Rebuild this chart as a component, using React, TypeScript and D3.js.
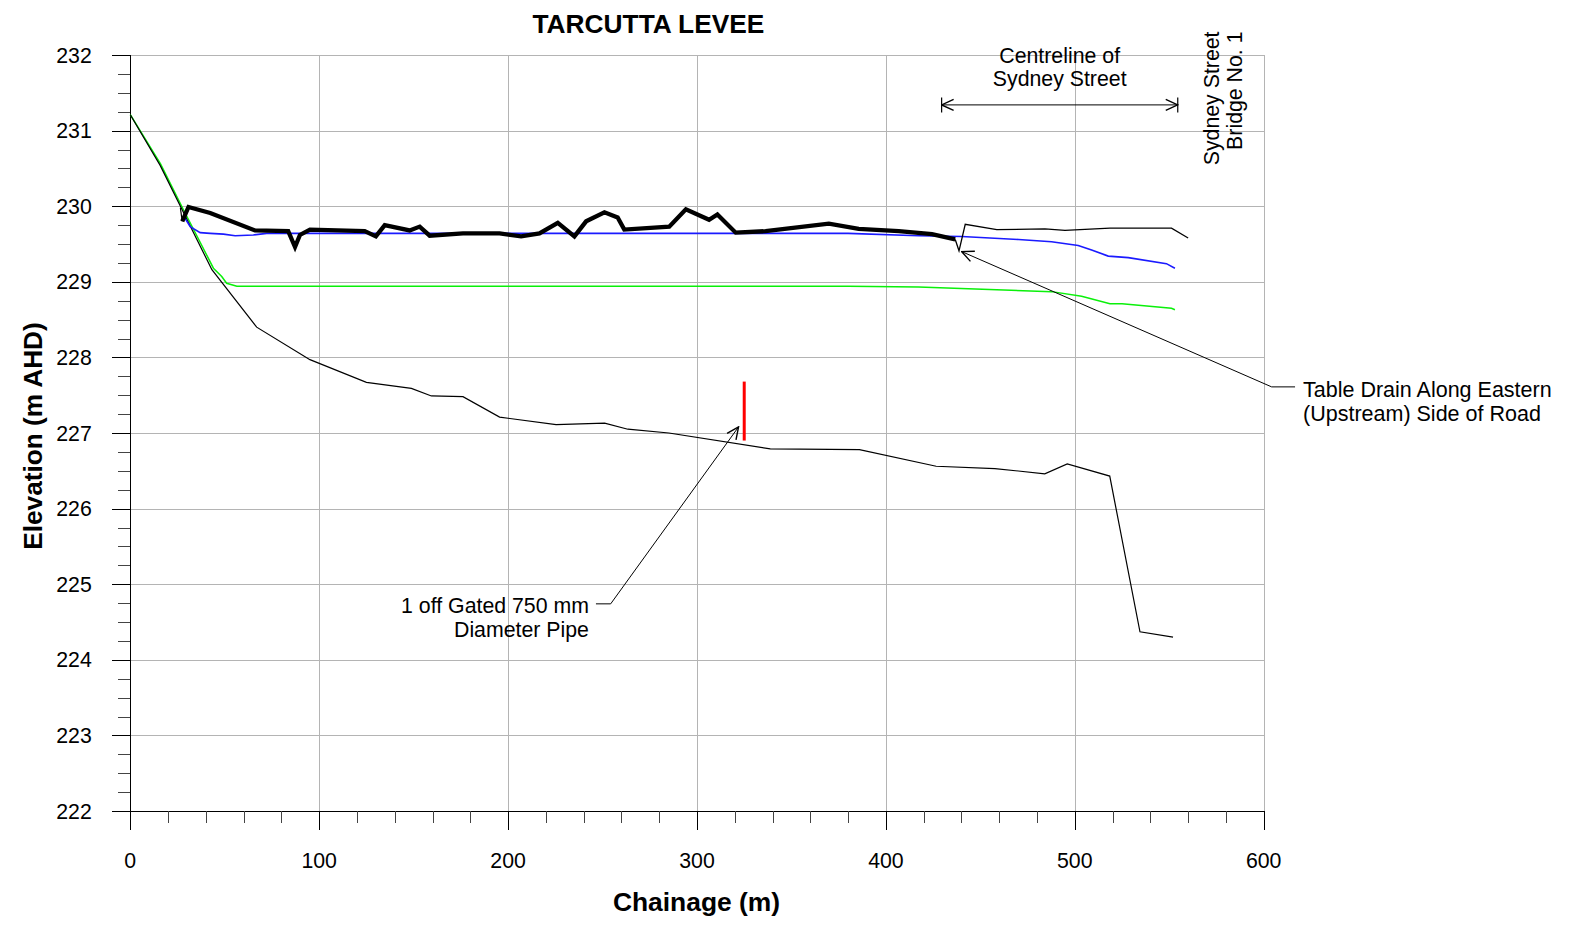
import React from "react";
import * as d3 from "d3";

// Long-section of the Tarcutta levee: chainage (m) vs elevation (m AHD)

// Natural surface / ground profile
const groundChainage = [0, 15.8, 43.2, 66.9, 95.1, 125, 148.8, 159.4, 176.1, 195.5, 225.4, 251.1, 263.4, 285.1, 338.8, 386.0, 426.6, 457.7, 484.1, 496.0, 518.5, 534.5, 552];
const groundLevel = [231.21, 230.54, 229.16, 228.4, 227.97, 227.67, 227.59, 227.49, 227.48, 227.21, 227.11, 227.13, 227.05, 227.0, 226.79, 226.78, 226.56, 226.53, 226.46, 226.59, 226.43, 224.37, 224.3];

// Levee crest (heavy line)
const crestChainage = [27.5, 30.8, 42.3, 66, 83.6, 87.2, 89.8, 95.1, 124.1, 130, 134.7, 147.9, 153.2, 158.5, 176.1, 195.5, 206.9, 216.6, 226.3, 235.1, 241.3, 251, 258, 261.5, 285.3, 294.1, 306.4, 310.8, 320.5, 336.3, 369.8, 385.6, 406.8, 424.4, 436.7];
const crestLevel = [229.8, 229.99, 229.91, 229.68, 229.67, 229.46, 229.62, 229.69, 229.67, 229.6, 229.75, 229.68, 229.73, 229.61, 229.64, 229.64, 229.6, 229.64, 229.78, 229.6, 229.8, 229.92, 229.85, 229.69, 229.73, 229.96, 229.82, 229.89, 229.65, 229.67, 229.77, 229.7, 229.67, 229.63, 229.56];

// Road surface through Sydney Street (thin line)
const roadChainage = [26.5, 27.5, 436.7, 438.7, 442, 458.7, 484.2, 494.8, 518.6, 551.2, 560];
const roadLevel = [229.98, 229.8, 229.56, 229.41, 229.76, 229.69, 229.7, 229.68, 229.71, 229.71, 229.58];

// Flood level (blue)
const blueChainage = [28.5, 31.7, 37, 42.3, 49.3, 55.5, 65.1, 72.2, 200, 380, 417.3, 440.2, 470.2, 487.7, 501.8, 508.9, 517.7, 528.3, 548.5, 553];
const blueLevel = [229.86, 229.73, 229.65, 229.64, 229.63, 229.61, 229.62, 229.64, 229.64, 229.64, 229.61, 229.6, 229.56, 229.53, 229.48, 229.42, 229.34, 229.32, 229.24, 229.18];

// Flood level (green)
const greenChainage = [0, 16, 28, 44, 48.4, 51, 56.4, 200, 380, 417.3, 487.7, 503.6, 518.6, 525, 551.2, 553];
const greenLevel = [231.21, 230.56, 229.96, 229.18, 229.07, 228.98, 228.94, 228.94, 228.94, 228.93, 228.87, 228.81, 228.71, 228.71, 228.65, 228.63];

// Gated pipe through the levee
const pipeChainage = 325;
const pipeInvert = 226.9;
const pipeObvert = 227.68;

// Extent of Sydney Street centreline
const sydneyStreetExtent = [429.5, 554.5];

// Axis ticks
const xTicks = [0, 100, 200, 300, 400, 500, 600];
const yTicks = [222, 223, 224, 225, 226, 227, 228, 229, 230, 231, 232];

const FONT = "'Liberation Sans', Arial, Helvetica, sans-serif";

const zip = (xs: number[], ys: number[]) => xs.map((x, i) => [x, ys[i]] as [number, number]);

export default function App() {
  const W = 1579;
  const H = 926;
  const x = d3.scaleLinear().domain([0, 600]).range([130.3, 1263.7]);
  const y = d3.scaleLinear().domain([222, 232]).range([811, 55]);
  const line = d3.line<[number, number]>().x((d) => x(d[0])).y((d) => y(d[1]));
  const px = (v: number) => Math.round(v) + 0.5;

  const xMinor = d3.range(0, 601, 20).filter((v) => v % 100 !== 0);
  const yMinor = d3.range(222, 232.001, 0.25).filter((v) => Math.abs(v - Math.round(v)) > 1e-6);

  const gridColor = "#b4b4b4";

  // pipe annotation geometry
  const pipeTip: [number, number] = [322.0, 227.08];
  const pipeElbow: [number, number] = [254.3, 224.74];
  const pipeLeaderStart = 246.5;

  // table drain annotation geometry
  const drainTip: [number, number] = [440.1, 229.4];
  const drainElbow: [number, number] = [604.2, 227.61];
  const drainLeaderEnd = 616.6;

  const dimY = y(231.34);
  const dimL = x(sydneyStreetExtent[0]);
  const dimR = x(sydneyStreetExtent[1]);
  const dimMid = (dimL + dimR) / 2;

  return (
    <svg
      width={W}
      height={H}
      style={{ position: "absolute", left: 0, top: 0, background: "#fff" }}
      fontFamily={FONT}
    >
      <defs>
        <marker id="openArrow" viewBox="0 0 14 14" refX="13" refY="7" markerWidth="14" markerHeight="14" markerUnits="userSpaceOnUse" orient="auto-start-reverse">
          <path d="M1,1.5 L13,7 L1,12.5" fill="none" stroke="#000" strokeWidth="1.4" />
        </marker>
      </defs>
      <rect x={0} y={0} width={W} height={H} fill="#fff" />

      {/* grid */}
      <g stroke={gridColor} strokeWidth={1} shapeRendering="crispEdges">
        {xTicks.filter((v) => v > 0).map((v) => (
          <line key={"gx" + v} x1={px(x(v))} x2={px(x(v))} y1={y(232)} y2={y(222)} />
        ))}
        {yTicks.filter((v) => v > 222).map((v) => (
          <line key={"gy" + v} x1={x(0)} x2={x(600)} y1={px(y(v))} y2={px(y(v))} />
        ))}
      </g>

      {/* axes and ticks */}
      <g stroke="#000" strokeWidth={1} shapeRendering="crispEdges">
        <line x1={px(x(0))} x2={px(x(0))} y1={y(232)} y2={y(222) + 19} />
        <line x1={x(0) - 18} x2={x(600)} y1={px(y(222))} y2={px(y(222))} />
        {yTicks.map((v) => (
          <line key={"yt" + v} x1={x(0) - 18} x2={x(0)} y1={px(y(v))} y2={px(y(v))} />
        ))}
        {xTicks.map((v) => (
          <line key={"xt" + v} x1={px(x(v))} x2={px(x(v))} y1={y(222)} y2={y(222) + 19} />
        ))}
      </g>
      <g stroke="#444" strokeWidth={1} shapeRendering="crispEdges">
        {yMinor.map((v) => (
          <line key={"ym" + v} x1={x(0) - 12} x2={x(0)} y1={px(y(v))} y2={px(y(v))} />
        ))}
        {xMinor.map((v) => (
          <line key={"xm" + v} x1={px(x(v))} x2={px(x(v))} y1={y(222)} y2={y(222) + 12} />
        ))}
      </g>

      {/* tick labels */}
      <g fontSize={21.3} fill="#000">
        {yTicks.map((v) => (
          <text key={"yl" + v} x={x(0) - 38.5} y={y(v) + 7.6} textAnchor="end">{v}</text>
        ))}
        {xTicks.map((v) => (
          <text key={"xl" + v} x={x(v)} y={868} textAnchor="middle">{v}</text>
        ))}
      </g>

      {/* profiles */}
      <path d={line(zip(greenChainage, greenLevel)) ?? ""} fill="none" stroke="#0af00a" strokeWidth={1.5} />
      <path d={line(zip(groundChainage, groundLevel)) ?? ""} fill="none" stroke="#000" strokeWidth={1.2} />
      <path d={line(zip(blueChainage, blueLevel)) ?? ""} fill="none" stroke="#1a1aff" strokeWidth={1.6} />
      <path d={line(zip(roadChainage.slice(2), roadLevel.slice(2))) ?? ""} fill="none" stroke="#000" strokeWidth={1.3} />
      <path d={line(zip(roadChainage.slice(0, 2), roadLevel.slice(0, 2))) ?? ""} fill="none" stroke="#000" strokeWidth={1.2} />
      <path d={line(zip(crestChainage, crestLevel)) ?? ""} fill="none" stroke="#000" strokeWidth={4.3} strokeLinejoin="miter" />

      {/* pipe */}
      <line x1={x(pipeChainage)} x2={x(pipeChainage)} y1={y(pipeInvert)} y2={y(pipeObvert)} stroke="#ff0000" strokeWidth={3} />

      {/* pipe annotation */}
      <path
        d={`M${x(pipeLeaderStart)},${y(pipeElbow[1])} L${x(pipeElbow[0])},${y(pipeElbow[1])} L${x(pipeTip[0])},${y(pipeTip[1])}`}
        fill="none" stroke="#000" strokeWidth={1} markerEnd="url(#openArrow)"
      />
      <g fontSize={21.3} textAnchor="end">
        <text x={x(pipeLeaderStart) - 7} y={y(pipeElbow[1]) + 9}>1 off Gated 750 mm</text>
        <text x={x(pipeLeaderStart) - 7} y={y(pipeElbow[1]) + 33}>Diameter Pipe</text>
      </g>

      {/* table drain annotation */}
      <path
        d={`M${x(drainLeaderEnd)},${y(drainElbow[1])} L${x(drainElbow[0])},${y(drainElbow[1])} L${x(drainTip[0])},${y(drainTip[1])}`}
        fill="none" stroke="#000" strokeWidth={1} markerEnd="url(#openArrow)"
      />
      <g fontSize={21.5}>
        <text x={x(drainLeaderEnd) + 8} y={y(drainElbow[1]) + 10}>Table Drain Along Eastern</text>
        <text x={x(drainLeaderEnd) + 8} y={y(drainElbow[1]) + 34}>(Upstream) Side of Road</text>
      </g>

      {/* Sydney Street centreline dimension */}
      <line x1={dimL} x2={dimR} y1={dimY} y2={dimY} stroke="#000" strokeWidth={1} markerStart="url(#openArrow)" markerEnd="url(#openArrow)" />
      <line x1={dimL} x2={dimL} y1={dimY - 7.5} y2={dimY + 7.5} stroke="#000" strokeWidth={1.2} />
      <line x1={dimR} x2={dimR} y1={dimY - 7.5} y2={dimY + 7.5} stroke="#000" strokeWidth={1.2} />
      <g fontSize={21.3} textAnchor="middle">
        <text x={dimMid} y={dimY - 41.5}>Centreline of</text>
        <text x={dimMid} y={dimY - 19.3}>Sydney Street</text>
      </g>

      {/* bridge label */}
      <g fontSize={21.3} textAnchor="end">
        <text transform={`translate(${x(600) - 44.5},31.5) rotate(-90)`}>Sydney Street</text>
        <text transform={`translate(${x(600) - 21.5},31.5) rotate(-90)`}>Bridge No. 1</text>
      </g>

      {/* titles */}
      <text x={648.4} y={33.3} fontSize={26.3} fontWeight="bold" textAnchor="middle">TARCUTTA LEVEE</text>
      <text x={696.5} y={911} fontSize={26.4} fontWeight="bold" textAnchor="middle">Chainage (m)</text>
      <text transform={`translate(42,436) rotate(-90)`} fontSize={26.2} fontWeight="bold" textAnchor="middle">Elevation (m AHD)</text>
    </svg>
  );
}
